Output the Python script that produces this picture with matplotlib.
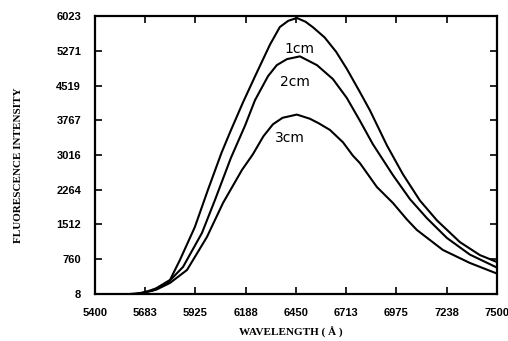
import numpy as np
import matplotlib.pyplot as plt

# spectra (wavelength in A, intensity)
wl_1cm = [5560, 5651, 5720, 5792, 5844, 5922, 5990, 6060, 6105, 6173, 6240, 6314,
          6366, 6410, 6455, 6500, 6539, 6600, 6660, 6716, 6784, 6837, 6926, 7009,
          7098, 7187, 7307, 7411, 7500]
fl_1cm = [0, 30, 130, 311, 744, 1458, 2258, 3050, 3500, 4150, 4750, 5400,
          5785, 5920, 5980, 5900, 5780, 5560, 5250, 4880, 4380, 3980, 3220, 2600,
          2030, 1600, 1130, 850, 700]

wl_2cm = [5600, 5700, 5780, 5860, 5959, 6027, 6110, 6184, 6236, 6304, 6350, 6403,
          6471, 6560, 6643, 6716, 6784, 6852, 6957, 7046, 7134, 7239, 7359, 7500]
fl_2cm = [0, 80, 250, 592, 1328, 2042, 2950, 3650, 4200, 4720, 4960, 5090,
          5150, 4960, 4660, 4250, 3760, 3250, 2580, 2060, 1650, 1220, 860, 580]

wl_3cm = [5620, 5720, 5792, 5881, 5985, 6069, 6168, 6225, 6280, 6330, 6380, 6455,
          6523, 6570, 6628, 6696, 6748, 6784, 6873, 6957, 7030, 7082, 7218, 7359, 7500]
fl_3cm = [0, 100, 246, 527, 1241, 1977, 2691, 3030, 3420, 3680, 3820, 3890,
          3800, 3700, 3557, 3290, 3000, 2842, 2323, 1977, 1620, 1393, 960, 679, 450]

curve_labels = ["1cm", "2cm", "3cm"]
label_pos = [(6471, 5300), (6445, 4600), (6419, 3390)]

xticks = [5400, 5662.5, 5925, 6187.5, 6450, 6712.5, 6975, 7237.5, 7500]
xticklabels = ["5400", "5683", "5925", "6188", "6450", "6713", "6975", "7238", "7500"]
yticks = [8, 760, 1512, 2264, 3016, 3767, 4519, 5271, 6023]
yticklabels = ["8", "760", "1512", "2264", "3016", "3767", "4519", "5271", "6023"]

fig = plt.figure(figsize=(5.08, 3.41), dpi=100)
ax = fig.add_axes([0.187, 0.138, 0.791, 0.815])

for wl, fl in [(wl_1cm, fl_1cm), (wl_2cm, fl_2cm), (wl_3cm, fl_3cm)]:
    ax.plot(wl, fl, color="black", lw=1.5, solid_joinstyle="round")

for lab, (x, y) in zip(curve_labels, label_pos):
    ax.text(x, y, lab, fontsize=10, ha="center", va="center",
            family="DejaVu Sans")

ax.set_xlim(5400, 7500)
ax.set_ylim(8, 6023)
ax.set_xticks(xticks)
ax.set_xticklabels(xticklabels)
ax.set_yticks(yticks)
ax.set_yticklabels(yticklabels)
ax.tick_params(direction="in", length=5, width=1.2, top=True, right=True,
               labelsize=8, pad=10)
for lab in ax.get_xticklabels() + ax.get_yticklabels():
    lab.set_family("Liberation Sans")
    lab.set_fontweight("bold")
for s in ax.spines.values():
    s.set_linewidth(1.6)

fig.text(0.036, 0.515, "FLUORESCENCE INTENSITY", rotation=90, ha="center", va="center",
         fontsize=8, fontweight="bold", family="Liberation Serif")
fig.text(0.572, 0.024, "WAVELENGTH ( Å )", ha="center", va="center",
         fontsize=8, fontweight="bold", family="Liberation Serif")

fig.savefig("out.png", dpi=100)
